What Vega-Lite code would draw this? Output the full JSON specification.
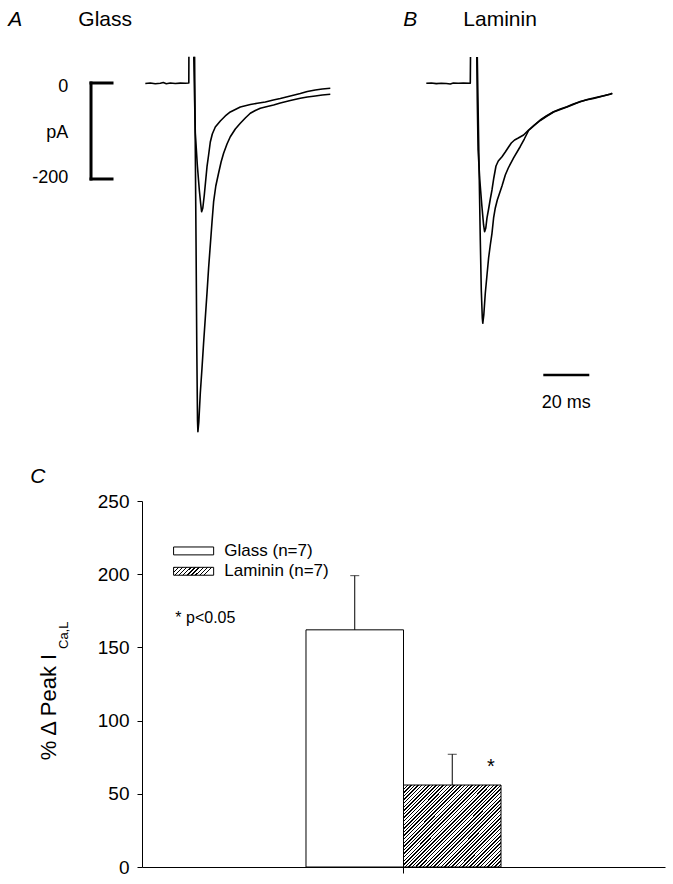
{
  "$schema": "https://vega.github.io/schema/vega-lite/v6.json",
  "padding": {"left": 8, "top": 0, "right": 0, "bottom": 0},
  "bounds": "flush",
  "spacing": 51,
  "config": {
    "view": {"stroke": null},
    "font": "Liberation Sans",
    "text": {"font": "Liberation Sans", "color": "black"},
    "axis": {"domainColor": "black", "tickColor": "black", "labelColor": "black", "labelFont": "Liberation Sans", "grid": false}
  },
  "vconcat": [
    {
      "width": 530,
      "height": 450,
      "layer": [
        {
          "layer": [
            {
              "data": {"values": [
                {"s":"b","t":-18.91,"I":-1.04},{"s":"b","t":-16.74,"I":0},{"s":"b","t":-14.57,"I":-1.67},{"s":"b","t":-12.39,"I":-0.63},{"s":"b","t":-11.09,"I":0.83},{"s":"b","t":-9.78,"I":-1.46},{"s":"b","t":-8.04,"I":0},{"s":"b","t":-5.87,"I":-1.04},{"s":"b","t":-3.7,"I":-0.21},{"s":"b","t":-1.52,"I":-0.63},{"s":"b","t":0,"I":0},{"s":"b","t":0.04,"I":54.8},
                {"s":"s","t":2.17,"I":54.8},{"s":"s","t":2.52,"I":-35.4},{"s":"s","t":2.83,"I":-104.2},{"s":"s","t":3.7,"I":-170.8},{"s":"s","t":4.57,"I":-222.9},{"s":"s","t":5.22,"I":-254.2},{"s":"s","t":5.57,"I":-268.1},{"s":"s","t":6.09,"I":-260.4},{"s":"s","t":6.74,"I":-233.3},{"s":"s","t":7.91,"I":-174.4},{"s":"s","t":8.61,"I":-150.0},{"s":"s","t":9.35,"I":-122.9},{"s":"s","t":10.22,"I":-106.3},{"s":"s","t":11.52,"I":-91.7},{"s":"s","t":13.7,"I":-79.2},{"s":"s","t":15.87,"I":-68.7},{"s":"s","t":18.04,"I":-60.4},{"s":"s","t":19.78,"I":-56.3},{"s":"s","t":22.39,"I":-50.0},{"s":"s","t":26.74,"I":-44.8},{"s":"s","t":29.78,"I":-42.3},{"s":"s","t":33.26,"I":-39.6},{"s":"s","t":36.74,"I":-35.4},{"s":"s","t":39.78,"I":-32.3},{"s":"s","t":44.13,"I":-27.1},{"s":"s","t":48.48,"I":-21.9},{"s":"s","t":51.52,"I":-17.7},{"s":"s","t":55.0,"I":-14.6},{"s":"s","t":58.04,"I":-12.5},{"s":"s","t":61.52,"I":-11.0},
                {"s":"l","t":2.52,"I":54.8},{"s":"l","t":2.83,"I":-139.6},{"s":"l","t":3.17,"I":-347.9},{"s":"l","t":3.48,"I":-556.2},{"s":"l","t":3.78,"I":-702.1},{"s":"l","t":3.96,"I":-726.5},{"s":"l","t":4.35,"I":-706.2},{"s":"l","t":5.0,"I":-645.8},{"s":"l","t":5.74,"I":-593.7},{"s":"l","t":6.43,"I":-541.7},{"s":"l","t":7.17,"I":-489.6},{"s":"l","t":7.91,"I":-437.5},{"s":"l","t":8.61,"I":-385.4},{"s":"l","t":9.35,"I":-337.5},{"s":"l","t":10.09,"I":-289.6},{"s":"l","t":10.78,"I":-247.9},{"s":"l","t":11.74,"I":-214.6},{"s":"l","t":12.96,"I":-187.5},{"s":"l","t":14.04,"I":-164.6},{"s":"l","t":15.13,"I":-146.5},{"s":"l","t":16.61,"I":-127.1},{"s":"l","t":18.04,"I":-111.9},{"s":"l","t":20.22,"I":-95.8},{"s":"l","t":22.39,"I":-84.0},{"s":"l","t":24.57,"I":-72.9},{"s":"l","t":26.74,"I":-63.1},{"s":"l","t":28.91,"I":-57.3},{"s":"l","t":31.09,"I":-52.7},{"s":"l","t":34.13,"I":-49.0},{"s":"l","t":36.87,"I":-45.8},{"s":"l","t":39.78,"I":-41.7},{"s":"l","t":44.13,"I":-36.5},{"s":"l","t":48.48,"I":-31.9},{"s":"l","t":51.52,"I":-29.2},{"s":"l","t":55.0,"I":-27.1},{"s":"l","t":58.04,"I":-25.0},{"s":"l","t":61.52,"I":-23.5}
              ]},
              "mark": {"type": "line", "color": "black", "strokeWidth": 1.6, "strokeJoin": "round"},
              "encoding": {
                "x": {"field": "t", "type": "quantitative", "scale": {"domain": [-20.35, 210.09], "nice": false, "zero": false}, "axis": null},
                "y": {"field": "I", "type": "quantitative", "scale": {"domain": [-764.6, 172.9], "nice": false, "zero": false}, "axis": null},
                "detail": {"field": "s", "type": "nominal"}
              }
            },
            {"data": {"values": [{}]}, "mark": {"type": "rule", "color": "black", "strokeWidth": 3, "strokeCap": "square"}, "encoding": {"x": {"datum": -42.52}, "y": {"datum": 0}, "y2": {"datum": -200}}},
            {"data": {"values": [{}]}, "mark": {"type": "rule", "color": "black", "strokeWidth": 3, "strokeCap": "square"}, "encoding": {"x": {"datum": -42.52}, "x2": {"datum": -33.39}, "y": {"datum": 0}}},
            {"data": {"values": [{}]}, "mark": {"type": "rule", "color": "black", "strokeWidth": 3, "strokeCap": "square"}, "encoding": {"x": {"datum": -42.52}, "x2": {"datum": -33.39}, "y": {"datum": -200}}},
            {"data": {"values": [{}]}, "mark": {"type": "text", "text": "0", "align": "right", "baseline": "middle", "fontSize": 18}, "encoding": {"x": {"datum": -52.4}, "y": {"datum": -7.7}}},
            {"data": {"values": [{}]}, "mark": {"type": "text", "text": "pA", "align": "right", "baseline": "middle", "fontSize": 18}, "encoding": {"x": {"datum": -52.4}, "y": {"datum": -104}}},
            {"data": {"values": [{}]}, "mark": {"type": "text", "text": "-200", "align": "right", "baseline": "middle", "fontSize": 18}, "encoding": {"x": {"datum": -52.4}, "y": {"datum": -198}}},
            {"data": {"values": [{}]}, "mark": {"type": "text", "text": "A", "align": "left", "baseline": "middle", "fontSize": 21, "fontStyle": "italic"}, "encoding": {"x": {"datum": -78.48}, "y": {"datum": 131.2}}},
            {"data": {"values": [{}]}, "mark": {"type": "text", "text": "Glass", "align": "left", "baseline": "middle", "fontSize": 21}, "encoding": {"x": {"datum": -48.04}, "y": {"datum": 131.2}}}
          ]
        },
        {
          "layer": [
            {
              "data": {"values": [
                {"s":"b","t":-19.13,"I":-0.6},{"s":"b","t":-16.96,"I":0},{"s":"b","t":-14.78,"I":-1.25},{"s":"b","t":-12.61,"I":-0.4},{"s":"b","t":-10.43,"I":-1.04},{"s":"b","t":-8.7,"I":-2.08},{"s":"b","t":-7.39,"I":0},{"s":"b","t":-5.22,"I":-0.6},{"s":"b","t":-3.04,"I":-0.2},{"s":"b","t":0,"I":-0.6},{"s":"b","t":0.09,"I":54.2},
                {"s":"s","t":2.83,"I":54.2},{"s":"s","t":3.04,"I":-35.4},{"s":"s","t":3.39,"I":-139.6},{"s":"s","t":4.13,"I":-202.1},{"s":"s","t":5.0,"I":-254.2},{"s":"s","t":5.78,"I":-295.8},{"s":"s","t":6.22,"I":-309.8},{"s":"s","t":6.74,"I":-302.1},{"s":"s","t":7.26,"I":-281.2},{"s":"s","t":7.96,"I":-262.5},{"s":"s","t":8.7,"I":-241.7},{"s":"s","t":9.43,"I":-222.9},{"s":"s","t":10.22,"I":-197.9},{"s":"s","t":11.17,"I":-172.9},{"s":"s","t":12.17,"I":-162.5},{"s":"s","t":13.78,"I":-153.5},{"s":"s","t":15.22,"I":-143.7},{"s":"s","t":16.65,"I":-133.3},{"s":"s","t":17.83,"I":-125.0},{"s":"s","t":19.26,"I":-118.7},{"s":"s","t":20.87,"I":-114.6},{"s":"s","t":23.17,"I":-108.3},{"s":"s","t":25.35,"I":-97.9},{"s":"s","t":27.83,"I":-87.5},{"s":"s","t":30.43,"I":-77.1},{"s":"s","t":33.04,"I":-68.7},{"s":"s","t":36.22,"I":-59.8},{"s":"s","t":39.13,"I":-54.2},{"s":"s","t":42.04,"I":-49.4},{"s":"s","t":44.78,"I":-43.7},{"s":"s","t":47.83,"I":-39.0},{"s":"s","t":50.87,"I":-34.4},{"s":"s","t":53.61,"I":-31.2},{"s":"s","t":56.52,"I":-28.1},{"s":"s","t":58.7,"I":-26.0},{"s":"s","t":60.87,"I":-22.9},{"s":"s","t":61.74,"I":-21.9},
                {"s":"l","t":3.04,"I":54.2},{"s":"l","t":3.48,"I":-77.1},{"s":"l","t":3.91,"I":-202.1},{"s":"l","t":4.35,"I":-327.1},{"s":"l","t":4.78,"I":-431.2},{"s":"l","t":5.22,"I":-489.6},{"s":"l","t":5.43,"I":-500.6},{"s":"l","t":5.87,"I":-483.3},{"s":"l","t":6.52,"I":-438.1},{"s":"l","t":7.26,"I":-400.0},{"s":"l","t":7.96,"I":-364.6},{"s":"l","t":8.7,"I":-337.5},{"s":"l","t":9.43,"I":-313.1},{"s":"l","t":10.13,"I":-281.2},{"s":"l","t":10.87,"I":-260.4},{"s":"l","t":11.74,"I":-243.7},{"s":"l","t":13.78,"I":-214.6},{"s":"l","t":15.22,"I":-191.7},{"s":"l","t":16.52,"I":-177.1},{"s":"l","t":18.83,"I":-156.2},{"s":"l","t":21.74,"I":-132.3},{"s":"l","t":23.48,"I":-116.7},{"s":"l","t":25.35,"I":-99.0},{"s":"l","t":27.83,"I":-88.5},{"s":"l","t":30.43,"I":-78.1},{"s":"l","t":33.04,"I":-69.8},{"s":"l","t":36.22,"I":-60.4},{"s":"l","t":39.13,"I":-55.2},{"s":"l","t":42.04,"I":-50.0},{"s":"l","t":44.78,"I":-44.8},{"s":"l","t":47.83,"I":-38.5},{"s":"l","t":50.87,"I":-35.0},{"s":"l","t":53.61,"I":-32.3},{"s":"l","t":56.52,"I":-28.7},{"s":"l","t":58.7,"I":-25.4},{"s":"l","t":60.87,"I":-23.5},{"s":"l","t":61.74,"I":-21.5}
              ]},
              "mark": {"type": "line", "color": "black", "strokeWidth": 1.6, "strokeJoin": "round"},
              "encoding": {
                "x": {"field": "t", "type": "quantitative", "scale": {"domain": [-142.74, 87.7], "nice": false, "zero": false}, "axis": null},
                "y": {"field": "I", "type": "quantitative"},
                "detail": {"field": "s", "type": "nominal"}
              }
            },
            {"data": {"values": [{}]}, "mark": {"type": "rule", "color": "black", "strokeWidth": 2.5}, "encoding": {"x": {"datum": 31.74}, "x2": {"datum": 51.74}, "y": {"datum": -608.3}}},
            {"data": {"values": [{}]}, "mark": {"type": "text", "text": "20 ms", "align": "center", "baseline": "middle", "fontSize": 18}, "encoding": {"x": {"datum": 41.74}, "y": {"datum": -667.3}}},
            {"data": {"values": [{}]}, "mark": {"type": "text", "text": "B", "align": "left", "baseline": "middle", "fontSize": 21, "fontStyle": "italic"}, "encoding": {"x": {"datum": -29.13}, "y": {"datum": 131.2}}},
            {"data": {"values": [{}]}, "mark": {"type": "text", "text": "Laminin", "align": "left", "baseline": "middle", "fontSize": 21}, "encoding": {"x": {"datum": -3.04}, "y": {"datum": 131.2}}}
          ]
        }
      ],
      "resolve": {"scale": {"x": "independent"}}
    },
    {
      "width": 523,
      "height": 366,
      "layer": [
        {
          "data": {"values": [{"c": "Glass", "m": 162, "hi": 199}, {"c": "Laminin", "m": 56, "hi": 77}]},
          "encoding": {
            "x": {"datum": "Glass vs Laminin", "type": "nominal", "scale": {"paddingInner": 0, "paddingOuter": 0.841},
                  "axis": {"labels": false, "title": null, "tickSize": 6, "domainWidth": 1, "tickWidth": 1}},
            "xOffset": {"field": "c", "type": "nominal", "scale": {"domain": ["Glass", "Laminin"], "paddingInner": 0, "paddingOuter": 0}}
          },
          "layer": [
            {
              "transform": [{"filter": "datum.c === 'Glass'"}],
              "mark": {"type": "bar", "fill": "white", "stroke": "black", "strokeWidth": 1},
              "encoding": {
                "y": {"field": "m", "type": "quantitative", "scale": {"domain": [0, 250], "nice": false},
                      "axis": {"values": [0, 50, 100, 150, 200, 250], "tickSize": 5, "labelPadding": 8, "labelFontSize": 19, "title": null, "domainWidth": 1, "tickWidth": 1}},
                "y2": {"datum": 0}
              }
            },
            {
              "transform": [{"filter": "datum.c === 'Laminin'"}],
              "mark": {"type": "bar", "stroke": "black", "strokeWidth": 1,
                "fill": {"gradient": "linear", "x1": 0, "y1": 0, "x2": 1.08, "y2": 0.905, "stops": [
                  {"offset":0,"color":"#000"},{"offset":0.008,"color":"#000"},{"offset":0.008,"color":"#fff"},{"offset":0.02,"color":"#fff"},
                  {"offset":0.02,"color":"#000"},{"offset":0.028,"color":"#000"},{"offset":0.028,"color":"#fff"},{"offset":0.04,"color":"#fff"},
                  {"offset":0.04,"color":"#000"},{"offset":0.048,"color":"#000"},{"offset":0.048,"color":"#fff"},{"offset":0.06,"color":"#fff"},
                  {"offset":0.06,"color":"#000"},{"offset":0.068,"color":"#000"},{"offset":0.068,"color":"#fff"},{"offset":0.08,"color":"#fff"},
                  {"offset":0.08,"color":"#000"},{"offset":0.088,"color":"#000"},{"offset":0.088,"color":"#fff"},{"offset":0.1,"color":"#fff"},
                  {"offset":0.1,"color":"#000"},{"offset":0.108,"color":"#000"},{"offset":0.108,"color":"#fff"},{"offset":0.12,"color":"#fff"},
                  {"offset":0.12,"color":"#000"},{"offset":0.128,"color":"#000"},{"offset":0.128,"color":"#fff"},{"offset":0.14,"color":"#fff"},
                  {"offset":0.14,"color":"#000"},{"offset":0.148,"color":"#000"},{"offset":0.148,"color":"#fff"},{"offset":0.16,"color":"#fff"},
                  {"offset":0.16,"color":"#000"},{"offset":0.168,"color":"#000"},{"offset":0.168,"color":"#fff"},{"offset":0.18,"color":"#fff"},
                  {"offset":0.18,"color":"#000"},{"offset":0.188,"color":"#000"},{"offset":0.188,"color":"#fff"},{"offset":0.2,"color":"#fff"},
                  {"offset":0.2,"color":"#000"},{"offset":0.208,"color":"#000"},{"offset":0.208,"color":"#fff"},{"offset":0.22,"color":"#fff"},
                  {"offset":0.22,"color":"#000"},{"offset":0.228,"color":"#000"},{"offset":0.228,"color":"#fff"},{"offset":0.24,"color":"#fff"},
                  {"offset":0.24,"color":"#000"},{"offset":0.248,"color":"#000"},{"offset":0.248,"color":"#fff"},{"offset":0.26,"color":"#fff"},
                  {"offset":0.26,"color":"#000"},{"offset":0.268,"color":"#000"},{"offset":0.268,"color":"#fff"},{"offset":0.28,"color":"#fff"},
                  {"offset":0.28,"color":"#000"},{"offset":0.288,"color":"#000"},{"offset":0.288,"color":"#fff"},{"offset":0.3,"color":"#fff"},
                  {"offset":0.3,"color":"#000"},{"offset":0.308,"color":"#000"},{"offset":0.308,"color":"#fff"},{"offset":0.32,"color":"#fff"},
                  {"offset":0.32,"color":"#000"},{"offset":0.328,"color":"#000"},{"offset":0.328,"color":"#fff"},{"offset":0.34,"color":"#fff"},
                  {"offset":0.34,"color":"#000"},{"offset":0.348,"color":"#000"},{"offset":0.348,"color":"#fff"},{"offset":0.36,"color":"#fff"},
                  {"offset":0.36,"color":"#000"},{"offset":0.368,"color":"#000"},{"offset":0.368,"color":"#fff"},{"offset":0.38,"color":"#fff"},
                  {"offset":0.38,"color":"#000"},{"offset":0.388,"color":"#000"},{"offset":0.388,"color":"#fff"},{"offset":0.4,"color":"#fff"},
                  {"offset":0.4,"color":"#000"},{"offset":0.408,"color":"#000"},{"offset":0.408,"color":"#fff"},{"offset":0.42,"color":"#fff"},
                  {"offset":0.42,"color":"#000"},{"offset":0.428,"color":"#000"},{"offset":0.428,"color":"#fff"},{"offset":0.44,"color":"#fff"},
                  {"offset":0.44,"color":"#000"},{"offset":0.448,"color":"#000"},{"offset":0.448,"color":"#fff"},{"offset":0.46,"color":"#fff"},
                  {"offset":0.46,"color":"#000"},{"offset":0.468,"color":"#000"},{"offset":0.468,"color":"#fff"},{"offset":0.48,"color":"#fff"},
                  {"offset":0.48,"color":"#000"},{"offset":0.488,"color":"#000"},{"offset":0.488,"color":"#fff"},{"offset":0.5,"color":"#fff"},
                  {"offset":0.5,"color":"#000"},{"offset":0.508,"color":"#000"},{"offset":0.508,"color":"#fff"},{"offset":0.52,"color":"#fff"},
                  {"offset":0.52,"color":"#000"},{"offset":0.528,"color":"#000"},{"offset":0.528,"color":"#fff"},{"offset":0.54,"color":"#fff"},
                  {"offset":0.54,"color":"#000"},{"offset":0.548,"color":"#000"},{"offset":0.548,"color":"#fff"},{"offset":0.56,"color":"#fff"},
                  {"offset":0.56,"color":"#000"},{"offset":0.568,"color":"#000"},{"offset":0.568,"color":"#fff"},{"offset":0.58,"color":"#fff"},
                  {"offset":0.58,"color":"#000"},{"offset":0.588,"color":"#000"},{"offset":0.588,"color":"#fff"},{"offset":0.6,"color":"#fff"},
                  {"offset":0.6,"color":"#000"},{"offset":0.608,"color":"#000"},{"offset":0.608,"color":"#fff"},{"offset":0.62,"color":"#fff"},
                  {"offset":0.62,"color":"#000"},{"offset":0.628,"color":"#000"},{"offset":0.628,"color":"#fff"},{"offset":0.64,"color":"#fff"},
                  {"offset":0.64,"color":"#000"},{"offset":0.648,"color":"#000"},{"offset":0.648,"color":"#fff"},{"offset":0.66,"color":"#fff"},
                  {"offset":0.66,"color":"#000"},{"offset":0.668,"color":"#000"},{"offset":0.668,"color":"#fff"},{"offset":0.68,"color":"#fff"},
                  {"offset":0.68,"color":"#000"},{"offset":0.688,"color":"#000"},{"offset":0.688,"color":"#fff"},{"offset":0.7,"color":"#fff"},
                  {"offset":0.7,"color":"#000"},{"offset":0.708,"color":"#000"},{"offset":0.708,"color":"#fff"},{"offset":0.72,"color":"#fff"},
                  {"offset":0.72,"color":"#000"},{"offset":0.728,"color":"#000"},{"offset":0.728,"color":"#fff"},{"offset":0.74,"color":"#fff"},
                  {"offset":0.74,"color":"#000"},{"offset":0.748,"color":"#000"},{"offset":0.748,"color":"#fff"},{"offset":0.76,"color":"#fff"},
                  {"offset":0.76,"color":"#000"},{"offset":0.768,"color":"#000"},{"offset":0.768,"color":"#fff"},{"offset":0.78,"color":"#fff"},
                  {"offset":0.78,"color":"#000"},{"offset":0.788,"color":"#000"},{"offset":0.788,"color":"#fff"},{"offset":0.8,"color":"#fff"},
                  {"offset":0.8,"color":"#000"},{"offset":0.808,"color":"#000"},{"offset":0.808,"color":"#fff"},{"offset":0.82,"color":"#fff"},
                  {"offset":0.82,"color":"#000"},{"offset":0.828,"color":"#000"},{"offset":0.828,"color":"#fff"},{"offset":0.84,"color":"#fff"},
                  {"offset":0.84,"color":"#000"},{"offset":0.848,"color":"#000"},{"offset":0.848,"color":"#fff"},{"offset":0.86,"color":"#fff"},
                  {"offset":0.86,"color":"#000"},{"offset":0.868,"color":"#000"},{"offset":0.868,"color":"#fff"},{"offset":0.88,"color":"#fff"},
                  {"offset":0.88,"color":"#000"},{"offset":0.888,"color":"#000"},{"offset":0.888,"color":"#fff"},{"offset":0.9,"color":"#fff"},
                  {"offset":0.9,"color":"#000"},{"offset":0.908,"color":"#000"},{"offset":0.908,"color":"#fff"},{"offset":0.92,"color":"#fff"},
                  {"offset":0.92,"color":"#000"},{"offset":0.928,"color":"#000"},{"offset":0.928,"color":"#fff"},{"offset":0.94,"color":"#fff"},
                  {"offset":0.94,"color":"#000"},{"offset":0.948,"color":"#000"},{"offset":0.948,"color":"#fff"},{"offset":0.96,"color":"#fff"},
                  {"offset":0.96,"color":"#000"},{"offset":0.968,"color":"#000"},{"offset":0.968,"color":"#fff"},{"offset":0.98,"color":"#fff"},
                  {"offset":0.98,"color":"#000"},{"offset":0.988,"color":"#000"},{"offset":0.988,"color":"#fff"},{"offset":1,"color":"#fff"}
                ]}},
              "encoding": {
                "y": {"field": "m", "type": "quantitative"},
                "y2": {"datum": 0}
              }
            },
            {
              "mark": {"type": "rule", "color": "black", "strokeWidth": 1},
              "encoding": {"y": {"field": "m", "type": "quantitative"}, "y2": {"field": "hi"}}
            },
            {
              "mark": {"type": "tick", "orient": "horizontal", "color": "black", "size": 9, "thickness": 1},
              "encoding": {"y": {"field": "hi", "type": "quantitative"}}
            }
          ]
        },
        {
          "data": {"values": [{}]},
          "layer": [
            {"mark": {"type": "text", "text": "*", "align": "center", "baseline": "alphabetic", "fontSize": 20},
             "encoding": {"x": {"datum": 0.6673, "type": "quantitative", "scale": {"domain": [0, 1], "nice": false, "zero": false}, "axis": null}, "y": {"datum": 64.3, "type": "quantitative"}}},
            {"mark": {"type": "text", "text": "* p<0.05", "align": "left", "baseline": "alphabetic", "fontSize": 16},
             "encoding": {"x": {"datum": 0.0637, "type": "quantitative", "axis": null}, "y": {"datum": 166.8, "type": "quantitative"}}},
            {"mark": {"type": "rect", "fill": "white", "stroke": "black", "strokeWidth": 1},
             "encoding": {"x": {"datum": 0.0604, "type": "quantitative", "axis": null}, "x2": {"datum": 0.137}, "y": {"datum": 213.2, "type": "quantitative"}, "y2": {"datum": 218.6}}},
            {"mark": {"type": "rect", "stroke": "black", "strokeWidth": 1,
               "fill": {"gradient": "linear", "x1": 0, "y1": 0, "x2": 1, "y2": 0.2, "stops": [
                 {"offset":0,"color":"#000"},{"offset":0.035,"color":"#000"},{"offset":0.035,"color":"#fff"},{"offset":0.1,"color":"#fff"},
                 {"offset":0.1,"color":"#000"},{"offset":0.135,"color":"#000"},{"offset":0.135,"color":"#fff"},{"offset":0.2,"color":"#fff"},
                 {"offset":0.2,"color":"#000"},{"offset":0.235,"color":"#000"},{"offset":0.235,"color":"#fff"},{"offset":0.3,"color":"#fff"},
                 {"offset":0.3,"color":"#000"},{"offset":0.335,"color":"#000"},{"offset":0.335,"color":"#fff"},{"offset":0.4,"color":"#fff"},
                 {"offset":0.4,"color":"#000"},{"offset":0.435,"color":"#000"},{"offset":0.435,"color":"#fff"},{"offset":0.5,"color":"#fff"},
                 {"offset":0.5,"color":"#000"},{"offset":0.535,"color":"#000"},{"offset":0.535,"color":"#fff"},{"offset":0.6,"color":"#fff"},
                 {"offset":0.6,"color":"#000"},{"offset":0.635,"color":"#000"},{"offset":0.635,"color":"#fff"},{"offset":0.7,"color":"#fff"},
                 {"offset":0.7,"color":"#000"},{"offset":0.735,"color":"#000"},{"offset":0.735,"color":"#fff"},{"offset":0.8,"color":"#fff"},
                 {"offset":0.8,"color":"#000"},{"offset":0.835,"color":"#000"},{"offset":0.835,"color":"#fff"},{"offset":0.9,"color":"#fff"},
                 {"offset":0.9,"color":"#000"},{"offset":0.935,"color":"#000"},{"offset":0.935,"color":"#fff"},{"offset":1,"color":"#fff"}
               ]}},
             "encoding": {"x": {"datum": 0.0604, "type": "quantitative", "axis": null}, "x2": {"datum": 0.137}, "y": {"datum": 199.3, "type": "quantitative"}, "y2": {"datum": 204.7}}},
            {"mark": {"type": "text", "text": "Glass (n=7)", "align": "left", "baseline": "middle", "fontSize": 17},
             "encoding": {"x": {"datum": 0.1574, "type": "quantitative", "axis": null}, "y": {"datum": 215.9, "type": "quantitative"}}},
            {"mark": {"type": "text", "text": "Laminin (n=7)", "align": "left", "baseline": "middle", "fontSize": 17},
             "encoding": {"x": {"datum": 0.1574, "type": "quantitative", "axis": null}, "y": {"datum": 202.0, "type": "quantitative"}}},
            {"mark": {"type": "text", "text": "C", "align": "left", "baseline": "middle", "fontSize": 21, "fontStyle": "italic"},
             "encoding": {"x": {"datum": -0.2136, "type": "quantitative", "axis": null}, "y": {"datum": 266.2, "type": "quantitative"}}},
            {"mark": {"type": "text", "text": "% Δ Peak I", "align": "left", "baseline": "middle", "fontSize": 22, "angle": 270},
             "encoding": {"x": {"datum": -0.1772, "type": "quantitative", "axis": null}, "y": {"datum": 72.9, "type": "quantitative"}}},
            {"mark": {"type": "text", "text": "Ca,L", "align": "left", "baseline": "middle", "fontSize": 13, "angle": 270},
             "encoding": {"x": {"datum": -0.15, "type": "quantitative", "axis": null}, "y": {"datum": 148.9, "type": "quantitative"}}}
          ]
        }
      ],
      "resolve": {"scale": {"x": "independent"}}
    }
  ]
}
